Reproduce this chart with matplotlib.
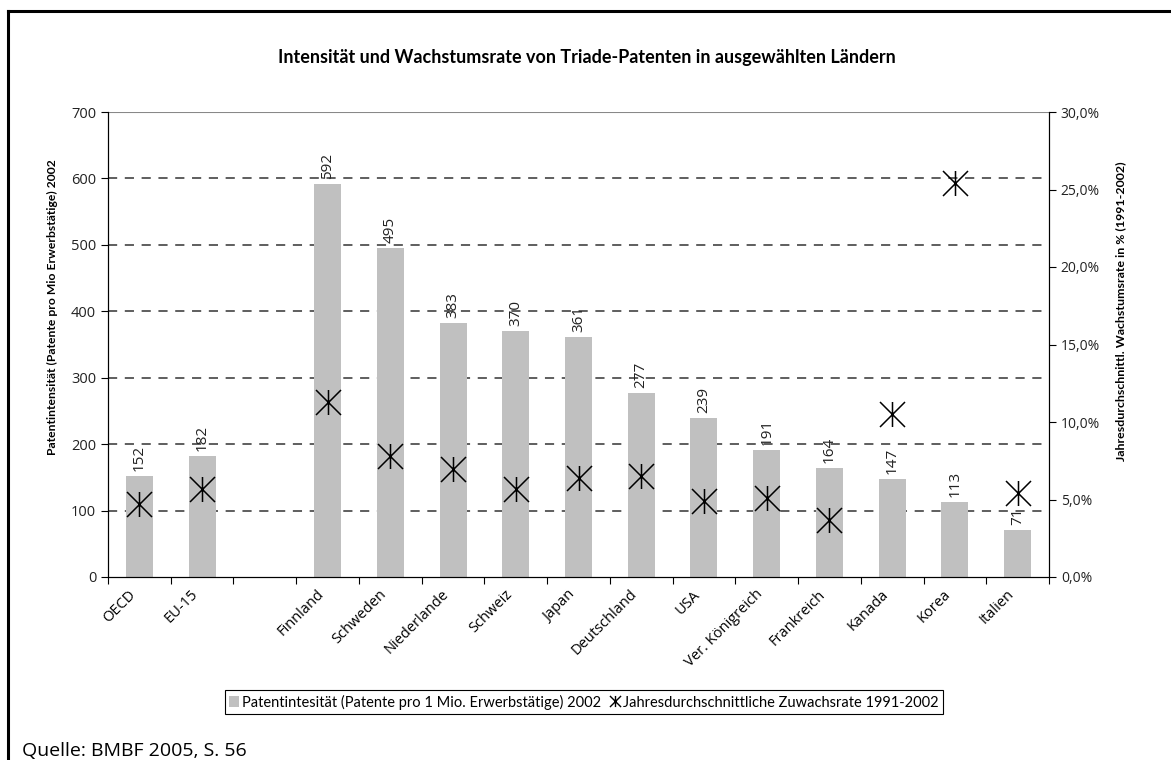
import numpy as np
import matplotlib
matplotlib.use("Agg")
import matplotlib.pyplot as plt
import matplotlib.transforms as mtransforms
from matplotlib.path import Path
from matplotlib.patches import Patch
from matplotlib.lines import Line2D
from matplotlib.ticker import FuncFormatter

# chart data
countries = ['OECD', 'EU-15', '', 'Finnland', 'Schweden', 'Niederlande', 'Schweiz', 'Japan',
             'Deutschland', 'USA', 'Ver. Königreich', 'Frankreich', 'Kanada', 'Korea', 'Italien']
intensity = [152, 182, np.nan, 592, 495, 383, 370, 361, 277, 239, 191, 164, 147, 113, 71]
growth = [4.7, 5.7, np.nan, 11.3, 7.8, 7.0, 5.7, 6.4, 6.5, 4.9, 5.1, 3.65, 10.5, 25.4, 5.4]

left_ticks = [0, 100, 200, 300, 400, 500, 600, 700]
right_ticks = [0, 5, 10, 15, 20, 25, 30]

W, H = 1171, 760
plt.rcParams['font.family'] = ['Open Sans', 'DejaVu Sans']
narrow = ['Lato', 'DejaVu Sans']

fig = plt.figure(figsize=(W / 100, H / 100), dpi=100)
ax = fig.add_axes([108 / W, 1 - 577 / H, (1049 - 108) / W, (577 - 112) / H])

x = np.arange(len(countries))
ax.bar(x, intensity, width=0.43, color='#c0c0c0', zorder=2)
for xi, v in zip(x, intensity):
    if np.isnan(v):
        continue
    ax.annotate(f"{int(v)}", (xi, v), xytext=(0, 3.5), textcoords='offset points',
                rotation=90, ha='center', va='bottom', fontsize=11, color='#222222', zorder=4)

ax.set_xlim(-0.5, len(countries) - 0.5)
ax.set_ylim(0, 700)
ax.set_yticks(left_ticks)
for t in left_ticks[1:-1]:
    ax.axhline(t, color='#333333', lw=1.1, ls=(0, (6, 5)), zorder=1)
ax.axhline(700, color='#888888', lw=1.5, zorder=1)

ax.set_xticks(np.arange(-0.5, len(countries), 1.0))
ax.set_xticklabels([])
ax.set_xticks(x, minor=True)
ax.set_xticklabels(countries, minor=True, rotation=45, ha='right', va='center',
                   rotation_mode='anchor', fontsize=10.5)
ax.tick_params(axis='x', which='minor', length=0, pad=11)
ax.tick_params(axis='x', which='major', length=5, direction='out')
ax.tick_params(axis='y', labelsize=10.5, length=5, colors='black', labelcolor='#222222')
shift = mtransforms.ScaledTranslation(-6 / 100, 0, fig.dpi_scale_trans)
for lab in ax.get_xticklabels(minor=True):
    lab.set_transform(lab.get_transform() + shift)
for s in ['left', 'right', 'bottom']:
    ax.spines[s].set_color('black')
ax.spines['top'].set_visible(False)

ax2 = ax.twinx()
ax2.set_ylim(0, 30)
ax2.set_yticks(right_ticks)
ax2.yaxis.set_major_formatter(FuncFormatter(lambda v, p: f"{v:.1f}%".replace('.', ',')))
ax2.tick_params(axis='y', labelsize=10, length=5, labelcolor='#222222')
ax2.spines['top'].set_visible(False)

star = Path([(-1, -1), (1, 1), (-1, 1), (1, -1), (0, -1), (0, 1)],
            [Path.MOVETO, Path.LINETO, Path.MOVETO, Path.LINETO, Path.MOVETO, Path.LINETO])
ax2.plot(x, growth, ls='none', marker=star, ms=18, mec='black', mew=1.1, mfc='none', zorder=5)

fig.text(587 / W, 1 - 58 / H, 'Intensität und Wachstumsrate von Triade-Patenten in ausgewählten Ländern',
         ha='center', va='center', fontsize=13, fontweight='bold', family=narrow)
fig.text(52 / W, 1 - 307 / H, 'Patentintensität (Patente pro Mio Erwerbstätige) 2002',
         rotation=90, ha='center', va='center', fontsize=8.7, fontweight='bold', family=narrow)
fig.text(1121 / W, 1 - 311 / H, 'Jahresdurchschnittl. Wachstumsrate in % (1991-2002)',
         rotation=90, ha='center', va='center', fontsize=8.9, fontweight='bold', family=narrow)

handles = [Patch(facecolor='#c0c0c0', edgecolor='none'),
           Line2D([], [], ls='none', marker=star, ms=8, mec='black', mew=1.0)]
labels = ['Patentintesität (Patente pro 1 Mio. Erwerbstätige) 2002',
          'Jahresdurchschnittliche Zuwachsrate 1991-2002']
leg = fig.legend(handles, labels, loc='center', bbox_to_anchor=(584 / W, 1 - 702 / H), ncol=2,
                 frameon=True, fancybox=False, edgecolor='black', framealpha=1,
                 handlelength=0.7, handleheight=0.7, handletextpad=0.2, columnspacing=0.6,
                 borderpad=0.3, prop={'family': narrow, 'size': 10.5})
leg.get_frame().set_linewidth(0.8)

fig.text(22 / W, 1 - 756 / H, 'Quelle: BMBF 2005, S. 56', ha='left', va='baseline', fontsize=14)

# frame around the figure (left and top edge only visible)
fig.add_artist(Line2D([8 / W, 8 / W], [0, 1 - 11 / H], color='black', lw=2.2, transform=fig.transFigure))
fig.add_artist(Line2D([8 / W, 1], [1 - 11 / H, 1 - 11 / H], color='black', lw=2.2, transform=fig.transFigure))

fig.savefig('out.png', dpi=100)
